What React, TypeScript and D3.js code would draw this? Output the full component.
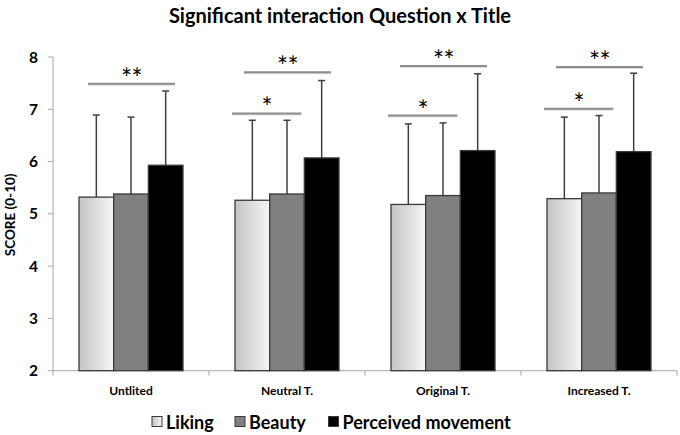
import { useEffect, useRef } from 'react';
import * as d3 from 'd3';

const categories = ['Untlited', 'Neutral T.', 'Original T.', 'Increased T.'];
const seriesNames = ['Liking', 'Beauty', 'Perceived movement'];

const liking = [5.32, 5.26, 5.18, 5.29];
const beauty = [5.38, 5.38, 5.35, 5.4];
const movement = [5.93, 6.07, 6.21, 6.19];

const likingErr = [6.89, 6.79, 6.72, 6.85];
const beautyErr = [6.85, 6.79, 6.74, 6.88];
const movementErr = [7.35, 7.55, 7.68, 7.69];

const yTicks = [2, 3, 4, 5, 6, 7, 8];

// significance marks: category, label, level on the score axis
const sigCategory = [0, 1, 1, 2, 2, 3, 3];
const sigLabel = ['**', '*', '**', '*', '**', '*', '**'];
const sigLevel = [7.49, 6.92, 7.71, 6.88, 7.83, 7.01, 7.81];

const App = () => {
  const svgRef = useRef(null);

  useEffect(() => {
    const svg = d3.select(svgRef.current);
    svg.selectAll('*').remove();

    const font = 'Lato, "Open Sans", sans-serif';
    const left = 53, right = 677, top = 57, bottom = 370.7;

    const defs = svg.append('defs');
    const grad = defs.append('linearGradient').attr('id', 'likingGrad')
      .attr('x1', '0%').attr('x2', '100%').attr('y1', '0%').attr('y2', '0%');
    grad.append('stop').attr('offset', '0%').attr('stop-color', '#c4c4c4');
    grad.append('stop').attr('offset', '100%').attr('stop-color', '#f5f5f5');

    const colors = ['url(#likingGrad)', '#808080', '#000000'];
    const values = [liking, beauty, movement];
    const errors = [likingErr, beautyErr, movementErr];

    const x = d3.scaleBand().domain(categories).range([left, right]).paddingInner(0).paddingOuter(0);
    const inner = d3.scaleBand().domain(seriesNames).range([x.bandwidth() / 6, x.bandwidth() * 5 / 6]);
    const y = d3.scaleLinear().domain([2, 8]).range([bottom, top]);

    // title
    svg.append('text')
      .attr('x', 340).attr('y', 23)
      .attr('text-anchor', 'middle')
      .attr('font-family', font).attr('font-weight', 'bold').attr('font-size', 20)
      .text('Significant interaction Question x Title');

    // y axis
    const axisColor = '#a6a6a6';
    svg.append('line').attr('x1', left).attr('x2', left).attr('y1', top).attr('y2', bottom)
      .attr('stroke', axisColor).attr('stroke-width', 1);
    yTicks.forEach(t => {
      svg.append('line').attr('x1', left - 5).attr('x2', left).attr('y1', y(t)).attr('y2', y(t))
        .attr('stroke', axisColor);
      svg.append('text').attr('x', 38).attr('y', y(t)).attr('dy', '0.36em')
        .attr('text-anchor', 'end').attr('font-family', font).attr('font-weight', 'bold')
        .attr('font-size', 15.5).text(t);
    });
    svg.append('text')
      .attr('transform', `translate(15,${(top + bottom) / 2 + 1}) rotate(-90)`)
      .attr('text-anchor', 'middle').attr('font-family', font).attr('font-weight', 'bold')
      .attr('font-size', 13.5).text('SCORE (0-10)');

    // x axis
    svg.append('line').attr('x1', left).attr('x2', right).attr('y1', bottom).attr('y2', bottom)
      .attr('stroke', axisColor);
    [...categories.map(c => x(c)), right].forEach(px => {
      svg.append('line').attr('x1', px).attr('x2', px).attr('y1', bottom).attr('y2', bottom + 5)
        .attr('stroke', axisColor);
    });
    categories.forEach(c => {
      svg.append('text').attr('x', x(c) + x.bandwidth() / 2).attr('y', 395)
        .attr('text-anchor', 'middle').attr('font-family', font).attr('font-weight', 'bold')
        .attr('font-size', 12).text(c);
    });

    // bars and error bars
    seriesNames.forEach((s, si) => {
      categories.forEach((c, ci) => {
        const bx = x(c) + inner(s);
        const bw = inner.bandwidth();
        const v = values[si][ci];
        const e = errors[si][ci];
        const cx = bx + bw / 2;
        svg.append('line').attr('x1', cx).attr('x2', cx).attr('y1', y(v)).attr('y2', y(e))
          .attr('stroke', '#404040').attr('stroke-width', 1.5);
        svg.append('line').attr('x1', cx - 3.5).attr('x2', cx + 3.5).attr('y1', y(e)).attr('y2', y(e))
          .attr('stroke', '#404040').attr('stroke-width', 1.5);
        svg.append('rect').attr('x', bx).attr('y', y(v)).attr('width', bw).attr('height', y(2) - y(v))
          .attr('fill', colors[si]).attr('stroke', '#3a3a3a').attr('stroke-width', 1.3);
      });
    });

    // significance lines
    sigLabel.forEach((lab, i) => {
      const c = categories[sigCategory[i]];
      const bw = inner.bandwidth();
      let x0, x1;
      if (lab === '*') {
        x0 = x(c) + inner(seriesNames[0]) - 3;
        x1 = x(c) + inner(seriesNames[1]) + bw - 3;
      } else {
        x0 = x(c) + inner(seriesNames[0]) + 9;
        x1 = x(c) + inner(seriesNames[2]) + bw - 8;
      }
      const ly = y(sigLevel[i]);
      svg.append('line').attr('x1', x0).attr('x2', x1).attr('y1', ly + 1).attr('y2', ly + 1)
        .attr('stroke', '#dcdcdc').attr('stroke-width', 2);
      svg.append('line').attr('x1', x0).attr('x2', x1).attr('y1', ly).attr('y2', ly)
        .attr('stroke', '#8c8c8c').attr('stroke-width', 2);
      svg.append('text').attr('x', (x0 + x1) / 2).attr('y', ly + 4)
        .attr('text-anchor', 'middle').attr('font-family', font).attr('font-size', 26)
        .attr('letter-spacing', -0.5).text(lab);
    });

    // legend
    const legendX = [152, 235, 328.5];
    seriesNames.forEach((s, si) => {
      svg.append('rect').attr('x', legendX[si]).attr('y', 416.5).attr('width', 10).attr('height', 10)
        .attr('fill', colors[si]).attr('stroke', '#3a3a3a').attr('stroke-width', 1);
      svg.append('text').attr('x', legendX[si] + 14).attr('y', 428.5)
        .attr('font-family', font).attr('font-weight', 'bold').attr('font-size', 18).text(s);
    });
  }, []);

  return (
    <svg ref={svgRef} width={680} height={435}
      style={{ position: 'absolute', left: 0, top: 0, background: '#fff' }}></svg>
  );
};

export default App;
